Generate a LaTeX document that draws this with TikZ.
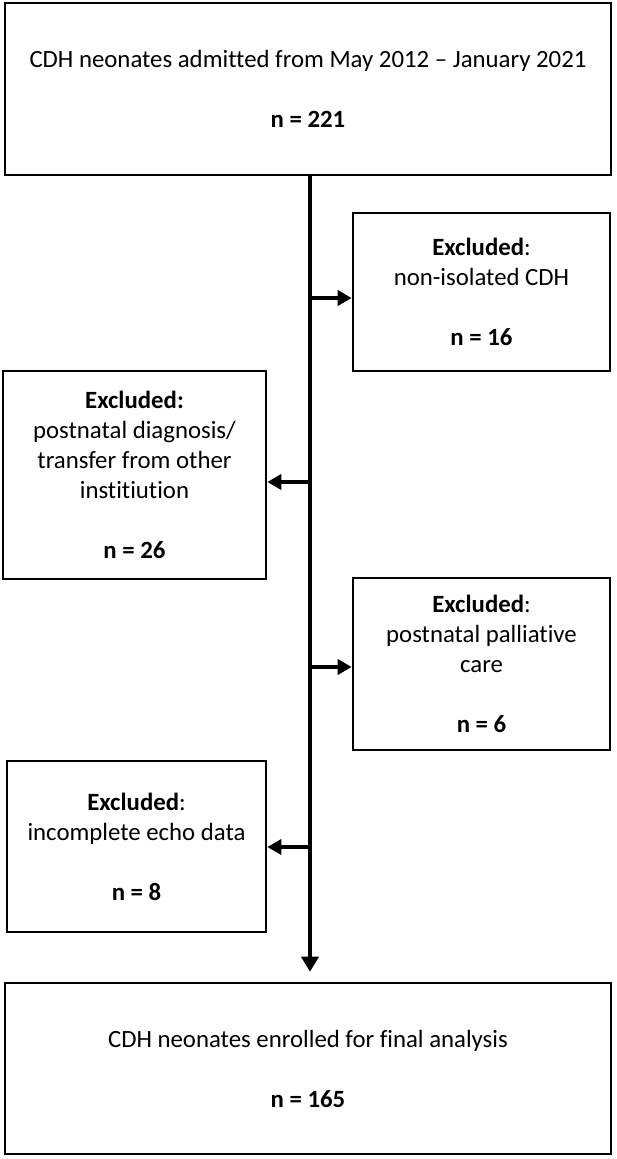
\documentclass[tikz,border=0pt]{standalone}
\usepackage{fontspec}
\setmainfont{Carlito}[Ligatures={TeX,NoCommon}]
\usetikzlibrary{arrows.meta}
\begin{document}
\begin{tikzpicture}[x=1pt,y=-1pt,
  box/.style={draw, line width=2.6pt, inner sep=0pt, align=center,
    font=\fontsize{24.8}{30}\selectfont},
  trunk/.style={line width=4.8pt, -{Triangle[length=15pt,width=17pt]}},
  side/.style={line width=4.5pt, -{Triangle[length=14pt,width=15pt]}}]
\useasboundingbox (0,0) rectangle (616,1159);
\node[box, minimum width=606pt, minimum height=172pt] (top) at (308,89)
  {CDH neonates admitted from May 2012 – January 2021\\[30pt]\textbf{n = 221}};
\node[box, minimum width=257pt, minimum height=158pt] (b1) at (481.5,292)
  {\textbf{Excluded}:\\non-isolated CDH\\[30pt]\textbf{n = 16}};
\node[box, minimum width=263pt, minimum height=208pt] (b2) at (134.5,475)
  {\textbf{Excluded:}\\postnatal diagnosis/\\transfer from other\\institiution\\[30pt]\textbf{n = 26}};
\node[box, minimum width=257pt, minimum height=172pt] (b3) at (481.5,664)
  {\textbf{Excluded}:\\postnatal palliative\\care\\[30pt]\textbf{n = 6}};
\node[box, minimum width=259pt, minimum height=171pt] (b4) at (136.5,846.5)
  {\textbf{Excluded}:\\incomplete echo data\\[30pt]\textbf{n = 8}};
\node[box, minimum width=606pt, minimum height=171pt] (bot) at (308,1068.5)
  {CDH neonates enrolled for final analysis\\[30pt]\textbf{n = 165}};
\coordinate (j1) at (310,298);
\coordinate (j2) at (310,482);
\coordinate (j3) at (310,667);
\coordinate (j4) at (310,847);
\draw[trunk, shorten >=10pt] (top.south -| j1) -- (bot.north -| j1);
\draw[side] (j1) -- (j1 -| b1.west);
\draw[side] (j2) -- (j2 -| b2.east);
\draw[side] (j3) -- (j3 -| b3.west);
\draw[side] (j4) -- (j4 -| b4.east);
\end{tikzpicture}
\end{document}
